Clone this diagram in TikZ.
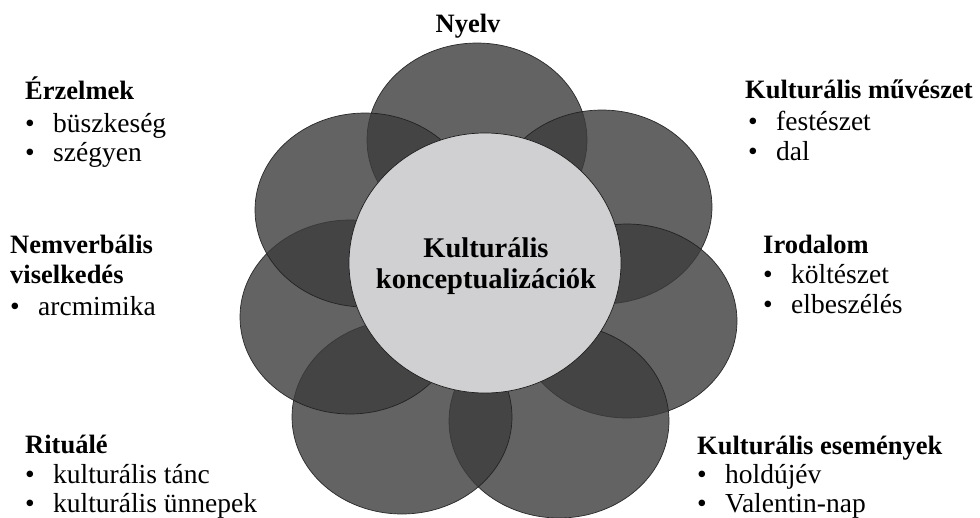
\documentclass[tikz,border=0pt]{standalone}
\usepackage{fontspec}
\setmainfont{Liberation Serif}
\definecolor{petalgray}{RGB}{60,60,60}
\definecolor{coregray}{RGB}{208,207,209}
\definecolor{edgegray}{RGB}{30,30,30}
\newcommand\headfont{\fontsize{26.5}{30}\selectfont\bfseries}
\newcommand\corefont{\fontsize{28.5}{30}\selectfont\bfseries}
\newcommand\itemfont{\fontsize{27.5}{30}\selectfont}
\newcommand\bul{\makebox[28pt][l]{•}}
\tikzset{
  petal/.style={fill=petalgray, fill opacity=0.8, draw=edgegray, draw opacity=0.9, line width=0.7pt},
  core/.style={fill=coregray, draw=edgegray, line width=0.7pt},
  head/.style={font=\headfont, inner sep=0pt, anchor=base west},
  itm/.style={font=\itemfont, inner sep=0pt, anchor=base west},
  ctr/.style={font=\corefont, inner sep=0pt, anchor=base},
}
\begin{document}
\begin{tikzpicture}[x=1pt,y=-1pt]
\useasboundingbox (0,0) rectangle (980,517);
% petals
\path[petal] (477,140) ellipse [x radius=110pt, y radius=97pt];
\path[petal] (602,207) ellipse [x radius=110pt, y radius=97pt];
\path[petal] (627,321) ellipse [x radius=110pt, y radius=97pt];
\path[petal] (559,421) ellipse [x radius=110pt, y radius=97pt];
\path[petal] (402,417) ellipse [x radius=110pt, y radius=97pt];
\path[petal] (350,317) ellipse [x radius=110pt, y radius=97pt];
\path[petal] (365,210) ellipse [x radius=110pt, y radius=97pt];
% core
\path[core] (485,263) ellipse [x radius=136pt, y radius=130pt];
\node[ctr] (c1) at (486,257) {Kulturális};
\node[ctr] (c2) at (486,288) {konceptualizációk};
% top
\node[head, anchor=base] (nyelv) at (468,32) {Nyelv};
% left groups
\node[head] (erz) at (25,99) {Érzelmek};
\node[itm] (erz1) at (25,132) {\bul büszkeség};
\node[itm] (erz2) at (25,161) {\bul szégyen};
\node[head] (nem1) at (10,253) {Nemverbális};
\node[head] (nem2) at (10,283) {viselkedés};
\node[itm] (nem3) at (10,315) {\bul arcmimika};
\node[head] (rit) at (25,453) {Rituálé};
\node[itm] (rit1) at (25,483) {\bul kulturális tánc};
\node[itm] (rit2) at (25,512) {\bul kulturális ünnepek};
% right groups
\node[head] (mu) at (745,98) {Kulturális művészet};
\node[itm] (mu1) at (748,130) {\bul festészet};
\node[itm] (mu2) at (748,160) {\bul dal};
\node[head] (iro) at (763,253) {Irodalom};
\node[itm] (iro1) at (763,283) {\bul költészet};
\node[itm] (iro2) at (763,313) {\bul elbeszélés};
\node[head] (ese) at (697,454) {Kulturális események};
\node[itm] (ese1) at (697,483) {\bul holdújév};
\node[itm] (ese2) at (697,512) {\bul Valentin-nap};
\end{tikzpicture}
\end{document}
